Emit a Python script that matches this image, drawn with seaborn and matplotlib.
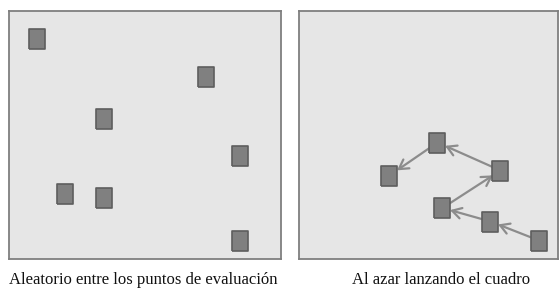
import numpy as np
import matplotlib
matplotlib.use("Agg")
import matplotlib.pyplot as plt
import seaborn as sns

# square positions (pixels inside each panel, origin top-left of the figure)
left_x = [36.5, 205.5, 104, 239.5, 65, 104, 239.5]
left_y = [39, 77, 118.5, 156, 193.5, 198, 240.5]

# right panel, in the order the box was thrown
right_x = [539, 490.5, 442.5, 500.5, 437.5, 389.5]
right_y = [240.5, 221.5, 208, 170.5, 142.5, 175.5]

titles = ["Aleatorio entre los puntos de evaluación", "Al azar lanzando el cuadro"]
title_x = [143, 441]

sns.set_theme(style="white")
plt.rcParams["font.family"] = ["Liberation Serif", "DejaVu Serif"]

W, H = 559, 288
fig = plt.figure(figsize=(W / 100, H / 100), dpi=100)

panels = [(9, 281), (299, 558)]
top, bottom = 11, 259
half_w, half_h = 7.5, 10
rect = [(-0.77, -1), (0.77, -1), (0.77, 1), (-0.77, 1), (-0.77, -1)]

axes = []
for (x0, x1), title, tx in zip(panels, titles, title_x):
    ax = fig.add_axes([x0 / W, (H - bottom) / H, (x1 - x0) / W, (bottom - top) / H])
    ax.set_xlim(x0, x1)
    ax.set_ylim(bottom, top)
    ax.set_facecolor("#e6e6e6")
    ax.set_xticks([])
    ax.set_yticks([])
    for sp in ax.spines.values():
        sp.set_color("#7f7f7f")
        sp.set_linewidth(1.3)
    fig.text(tx / W, (H - 283.5) / H, title, ha="center", va="baseline",
             fontsize=12, color="#111111")
    axes.append(ax)


def edge_dist(dx, dy):
    # distance from the centre to the rectangle edge along (dx, dy), in pixels
    n = np.hypot(dx, dy)
    t = min(half_w / abs(dx) if dx else np.inf, half_h / abs(dy) if dy else np.inf)
    return t * n


ax = axes[1]
for i in range(len(right_x) - 1):
    xa, ya, xb, yb = right_x[i], right_y[i], right_x[i + 1], right_y[i + 1]
    d = edge_dist(xb - xa, yb - ya) * 0.72  # pixels -> points
    ax.annotate("", xy=(xb, yb), xytext=(xa, ya),
                arrowprops=dict(arrowstyle="->,head_length=0.55,head_width=0.32",
                                color="#8c8c8c", lw=1.6,
                                shrinkA=d * 0.9, shrinkB=d))

for ax, xs, ys in [(axes[0], left_x, left_y), (axes[1], right_x, right_y)]:
    sns.scatterplot(x=xs, y=ys, ax=ax, marker=rect, s=(20 * 0.72) ** 2,
                    color="#808080", edgecolor="#5e5e5e", linewidth=1.2, zorder=3)

fig.savefig("out.png", dpi=100)
